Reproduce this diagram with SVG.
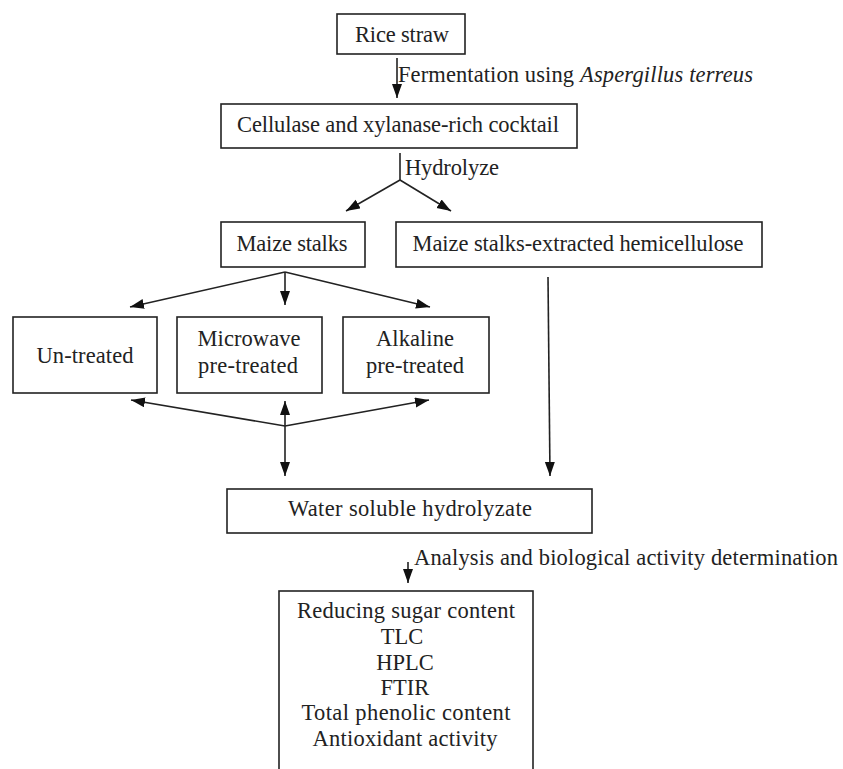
<svg xmlns="http://www.w3.org/2000/svg" width="843" height="769" viewBox="0 0 843 769">
<defs>
<style>
.box{fill:#fff;stroke:#222;stroke-width:1.6}
.t{font-family:"Liberation Serif","Times New Roman",serif;font-size:22.5px;fill:#222}
.c{text-anchor:middle}
.ln{fill:none;stroke:#222;stroke-width:1.6}
</style>
<marker id="ah" markerUnits="userSpaceOnUse" markerWidth="15" markerHeight="12" viewBox="0 0 15 12" refX="14" refY="5" orient="auto-start-reverse">
<path d="M0,0 L14,5 L0,10 z" fill="#111"/>
</marker>
</defs>
<rect width="843" height="769" fill="#fff"/>
<g id="connectors">
<line class="ln" x1="397" y1="58" x2="397" y2="98" marker-end="url(#ah)"/>
<text class="t" x="398" y="82" textLength="176" lengthAdjust="spacing">Fermentation using</text>
<text class="t" x="580" y="82" font-style="italic" textLength="173" lengthAdjust="spacing">Aspergillus terreus</text>
<polyline class="ln" points="400,153 400,180"/>
<line class="ln" x1="400" y1="180" x2="346" y2="211" marker-end="url(#ah)"/>
<line class="ln" x1="400" y1="180" x2="451" y2="211" marker-end="url(#ah)"/>
<text class="t" x="405" y="175" textLength="94" lengthAdjust="spacing">Hydrolyze</text>
<line class="ln" x1="285" y1="272" x2="130" y2="307" marker-end="url(#ah)"/>
<line class="ln" x1="285" y1="272" x2="285" y2="305" marker-end="url(#ah)"/>
<line class="ln" x1="285" y1="272" x2="430" y2="307" marker-end="url(#ah)"/>
<line class="ln" x1="285" y1="426" x2="131" y2="400" marker-end="url(#ah)"/>
<line class="ln" x1="285" y1="426" x2="429" y2="400" marker-end="url(#ah)"/>
<line class="ln" x1="285" y1="401" x2="285" y2="476" marker-start="url(#ah)" marker-end="url(#ah)"/>
<line class="ln" x1="548" y1="277" x2="550" y2="476" marker-end="url(#ah)"/>
<line class="ln" x1="408" y1="562" x2="408" y2="583" marker-end="url(#ah)"/>
<text class="t" x="414" y="565" textLength="424" lengthAdjust="spacing">Analysis and biological activity determination</text>
</g>
<g id="rice-straw">
<rect class="box" x="337" y="14" width="128" height="40"/>
<text class="t c" x="402" y="42" textLength="94" lengthAdjust="spacing">Rice straw</text>
</g>
<g id="cocktail">
<rect class="box" x="221" y="104" width="356" height="44"/>
<text class="t c" x="398" y="132" textLength="322" lengthAdjust="spacing">Cellulase and xylanase-rich cocktail</text>
</g>
<g id="maize-stalks">
<rect class="box" x="221" y="222" width="144" height="45"/>
<text class="t c" x="292" y="251" textLength="111" lengthAdjust="spacing">Maize stalks</text>
</g>
<g id="hemicellulose">
<rect class="box" x="396" y="222" width="366" height="45"/>
<text class="t c" x="578" y="251" textLength="331" lengthAdjust="spacing">Maize stalks-extracted hemicellulose</text>
</g>
<g id="untreated">
<rect class="box" x="13" y="317" width="144" height="76"/>
<text class="t c" x="85" y="363" textLength="97" lengthAdjust="spacing">Un-treated</text>
</g>
<g id="microwave">
<rect class="box" x="177" y="317" width="145" height="76"/>
<text class="t c" x="249" y="346" textLength="103" lengthAdjust="spacing">Microwave</text>
<text class="t c" x="248" y="373" textLength="100" lengthAdjust="spacing">pre-treated</text>
</g>
<g id="alkaline">
<rect class="box" x="343" y="317" width="146" height="76"/>
<text class="t c" x="415" y="346" textLength="78" lengthAdjust="spacing">Alkaline</text>
<text class="t c" x="415" y="373" textLength="98" lengthAdjust="spacing">pre-treated</text>
</g>
<g id="water-soluble">
<rect class="box" x="227" y="489" width="365" height="44"/>
<text class="t c" x="410" y="516" textLength="244" lengthAdjust="spacing">Water soluble hydrolyzate</text>
</g>
<g id="analysis">
<rect class="box" x="279" y="591" width="254" height="200"/>
<text class="t c" x="406" y="618" textLength="218" lengthAdjust="spacing">Reducing sugar content</text>
<text class="t c" x="402" y="644">TLC</text>
<text class="t c" x="405" y="670">HPLC</text>
<text class="t c" x="405" y="695">FTIR</text>
<text class="t c" x="406" y="720" textLength="209" lengthAdjust="spacing">Total phenolic content</text>
<text class="t c" x="405" y="746" textLength="185" lengthAdjust="spacing">Antioxidant activity</text>
</g>
</svg>
